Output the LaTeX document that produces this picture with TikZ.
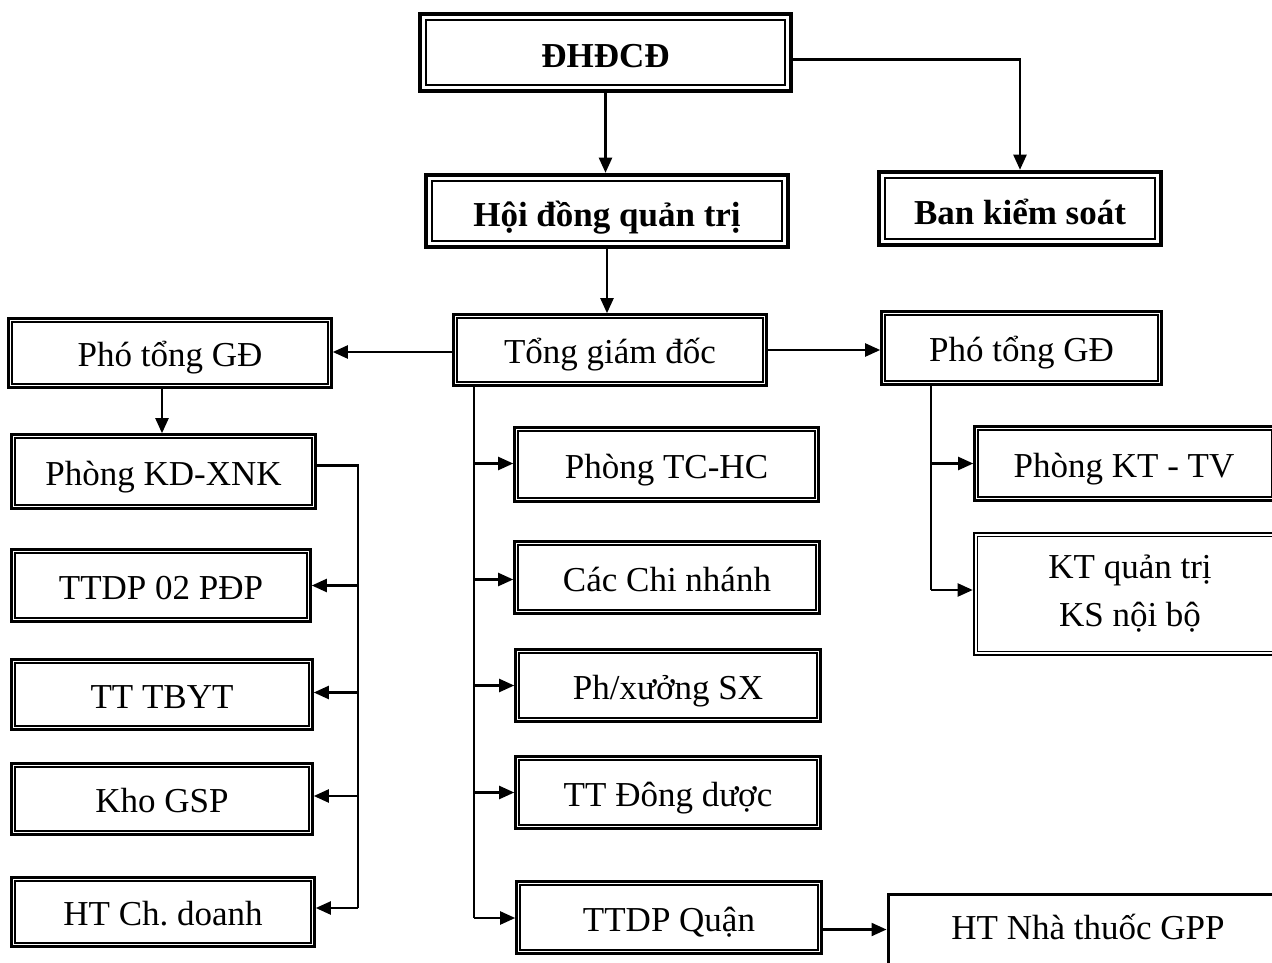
\documentclass[tikz,border=0pt]{standalone}
\usepackage{fontspec}
\setmainfont{Liberation Serif}
\usetikzlibrary{arrows.meta}
\frenchspacing
\begin{document}
\begin{tikzpicture}[x=1pt,y=-1pt]
\tikzset{
  box/.style={draw, line width=2.6pt, inner sep=0pt, align=center,
    text height=27pt, text depth=0pt,
    font=\fontsize{35}{48}\selectfont,
    path picture={\draw[line width=1.2pt]
      ([shift={(3.5pt,-3.5pt)}]path picture bounding box.north west) rectangle
      ([shift={(-3.5pt,3.5pt)}]path picture bounding box.south east);}},
  bbox/.style={draw, line width=4.5pt, inner sep=0pt,
    text height=31pt, text depth=0pt,
    font=\bfseries\fontsize{35}{42}\selectfont,
    path picture={\draw[line width=2.6pt]
      ([shift={(6pt,-6pt)}]path picture bounding box.north west) rectangle
      ([shift={(-6pt,6pt)}]path picture bounding box.south east);}},
  sbox/.style={draw, line width=3pt, inner sep=0pt, text height=27pt, text depth=16pt,
    font=\fontsize{35}{42}\selectfont},
  conn/.style={line width=2.2pt},
  arr/.style={conn, -{Triangle[length=15pt,width=13pt]}},
}
\useasboundingbox (0,0) rectangle (1272,963);
\clip (0,0) rectangle (1272,963);
\fill[white] (0,0) rectangle (1272,963);

% top
\node[bbox, minimum width=371, minimum height=77] (dhdcd) at (605.5,52.5) {ĐHĐCĐ};
\node[bbox, minimum width=362, minimum height=72] (hdqt) at (607,211) {Hội đồng quản trị};
\node[bbox, minimum width=282, minimum height=73] (bks) at (1020,208.5) {Ban kiểm soát};

% level 2
\node[box, minimum width=313, minimum height=71] (tgd) at (610,350) {Tổng giám đốc};
\node[box, minimum width=323, minimum height=69] (ptl) at (170,353) {Phó tổng GĐ};
\node[box, minimum width=280, minimum height=73] (ptr) at (1021.5,348) {Phó tổng GĐ};

% left column
\node[box, minimum width=304, minimum height=74] (kdx) at (163.5,471.5) {Phòng KD-XNK};
\node[box, minimum width=299, minimum height=72] (ttdp02) at (161,585.5) {TTDP 02 PĐP};
\node[box, minimum width=301, minimum height=70] (tbyt) at (162,694.5) {TT TBYT};
\node[box, minimum width=301, minimum height=71] (kho) at (162,799) {Kho GSP};
\node[box, minimum width=303, minimum height=69] (htch) at (163,912) {HT Ch. doanh};

% middle column
\node[box, minimum width=304, minimum height=74] (tchc) at (666.5,464.5) {Phòng TC-HC};
\node[box, minimum width=305, minimum height=72] (cn) at (667,577.5) {Các Chi nhánh};
\node[box, minimum width=305, minimum height=72] (px) at (668,685.5) {Ph/xưởng SX};
\node[box, minimum width=305, minimum height=72] (tdd) at (668,792.5) {TT Đông dược};
\node[box, minimum width=305, minimum height=72] (ttdpq) at (669,917.5) {TTDP Quận};

% right column
\node[box, minimum width=301, minimum height=74] (kttv) at (1125,463.5) {Phòng KT - TV\hspace{2pt}};
\node[box, text height=, text depth=, minimum width=312, minimum height=122] (ktqt) at (1130,594) {KT quản trị\\KS nội bộ};
\node[sbox, minimum width=400, minimum height=80] (gpp) at (1088,934) {HT Nhà thuốc GPP\hspace{56pt}};

% connectors top
\draw[arr] (dhdcd.south) -- (dhdcd.south |- hdqt.north);
\draw[arr] ([yshift=-7pt]dhdcd.east) -| (bks.north);
\draw[arr] (hdqt.south) -- (hdqt.south |- tgd.north);
\draw[arr] ([yshift=-2pt]tgd.west) -- ([yshift=-2pt]tgd.west -| ptl.east);
\draw[arr] (tgd.east) -- (tgd.east -| ptr.west);

% left branch
\draw[arr] ([xshift=-8pt]ptl.south) -- ([xshift=-8pt]ptl.south |- kdx.north);
\coordinate (lbus) at (358,908);
\draw[conn] ([yshift=6pt]kdx.east) -| (lbus);
\draw[arr] (ttdp02.east -| lbus) -- (ttdp02.east);
\draw[arr] ([yshift=2pt]tbyt.east -| lbus) -- ([yshift=2pt]tbyt.east);
\draw[arr] ([yshift=3pt]kho.east -| lbus) -- ([yshift=3pt]kho.east);
\draw[arr] (lbus) -- (lbus -| htch.east);

% middle branch
\coordinate (cbus) at (474,918);
\draw[conn] (tgd.south -| cbus) -- (cbus);
\draw[arr] ([yshift=1pt]tchc.west -| cbus) -- ([yshift=1pt]tchc.west);
\draw[arr] ([yshift=-2pt]cn.west -| cbus) -- ([yshift=-2pt]cn.west);
\draw[arr] (px.west -| cbus) -- (px.west);
\draw[arr] (tdd.west -| cbus) -- (tdd.west);
\draw[arr] (cbus) -- (cbus -| ttdpq.west);
\draw[arr] ([yshift=-12pt]ttdpq.east) -- ([yshift=-12pt]ttdpq.east -| gpp.west);

% right branch
\coordinate (rbus) at (931,590);
\draw[conn] (ptr.south -| rbus) -- (rbus);
\draw[arr] (kttv.west -| rbus) -- (kttv.west);
\draw[arr] (rbus) -- (rbus -| ktqt.west);
\end{tikzpicture}
\end{document}
